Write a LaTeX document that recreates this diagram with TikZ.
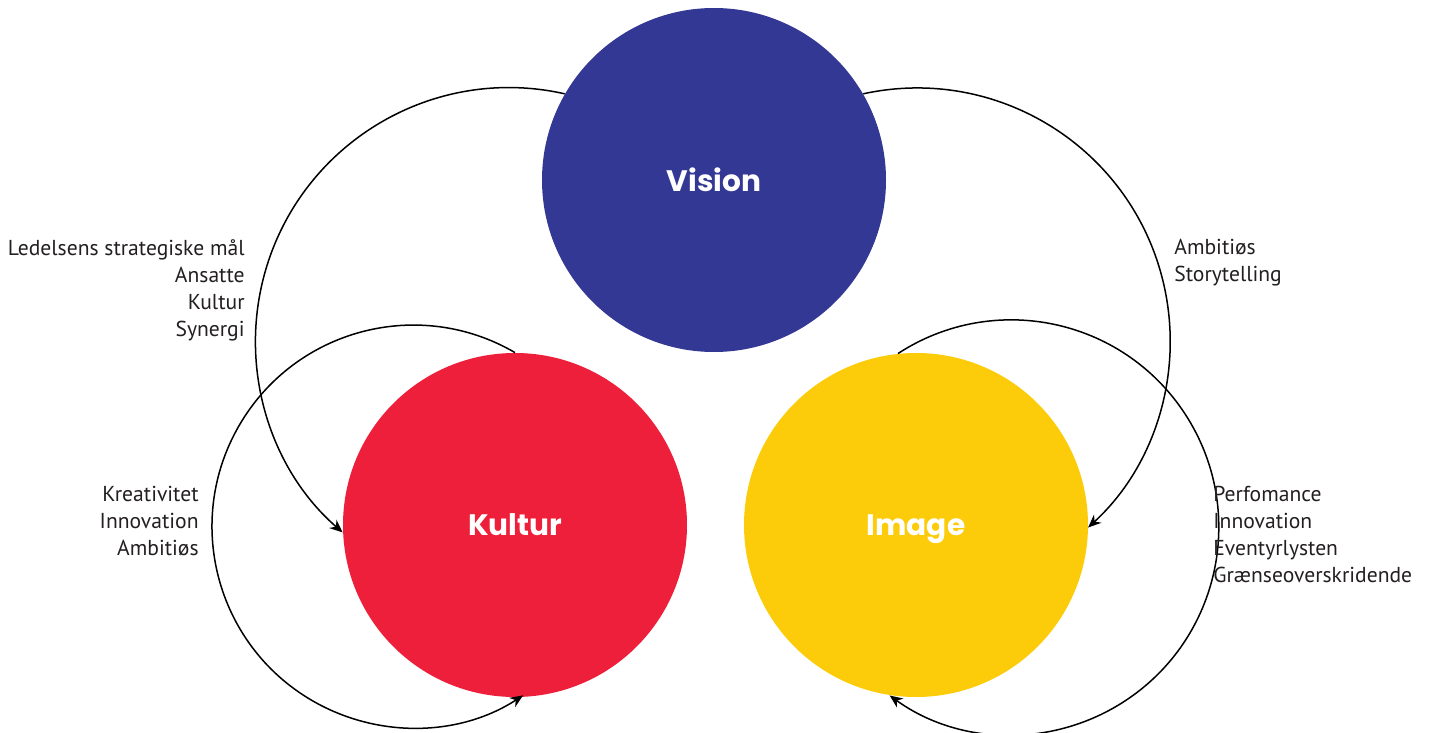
\documentclass[tikz,border=0pt]{standalone}
\usepackage{fontspec}
\setmainfont{PT Sans}
\newfontfamily\headfont{Poppins}
\usetikzlibrary{arrows.meta}
\definecolor{visionblue}{RGB}{51,56,148}
\definecolor{kulturred}{RGB}{237,31,58}
\definecolor{imageyellow}{RGB}{252,204,10}
\definecolor{inktext}{RGB}{35,31,32}
\begin{document}
\begin{tikzpicture}[x=0.5pt,y=-0.5pt,
  bigcircle/.style={circle,inner sep=0pt,minimum size=172pt,text depth=0pt,
    text=white,font=\headfont\bfseries\fontsize{14.8}{18}\selectfont},
  sidetext/.style={inner sep=0pt,text=inktext,font=\fontsize{10.8}{13.5}\selectfont},
  loop/.style={line width=0.75pt,-{Stealth[length=6.5pt,width=5.5pt]}}]
\useasboundingbox (0,0) rectangle (1437,733);

% the three circles
\node[bigcircle,fill=visionblue]  (vision) at (714,180) {Vision};
\node[bigcircle,fill=kulturred]   (kultur) at (515,525) {Kultur};
\node[bigcircle,fill=imageyellow] (image)  at (916,525) {Image};

% large loops from Vision
\draw[loop] (vision.150) arc[start angle=-77.3,end angle=-229,radius=253.5];
\draw[loop] (vision.30)  arc[start angle=-102.3,end angle=47.5,radius=253];

% small loops returning to each circle
\draw[loop] (kultur.90) arc[start angle=-59.7,end angle=-303,radius=201.4];
\draw[loop] (image.96)  arc[start angle=-123.1,end angle=125.9,radius=207.5];

% side labels
\node[sidetext,align=right,anchor=east] (ledelse) at (245,290)
  {Ledelsens strategiske mål\\Ansatte\\Kultur\\Synergi};
\node[sidetext,align=right,anchor=east] (kreativ) at (199,521)
  {Kreativitet\\Innovation\\Ambitiøs};
\node[sidetext,align=left,anchor=west] (ambit) at (1174,263)
  {Ambitiøs\\Storytelling};
\node[sidetext,align=left,anchor=west] (perf) at (1213,534)
  {Perfomance\\Innovation\\Eventyrlysten\\Grænseoverskridende};
\end{tikzpicture}
\end{document}
